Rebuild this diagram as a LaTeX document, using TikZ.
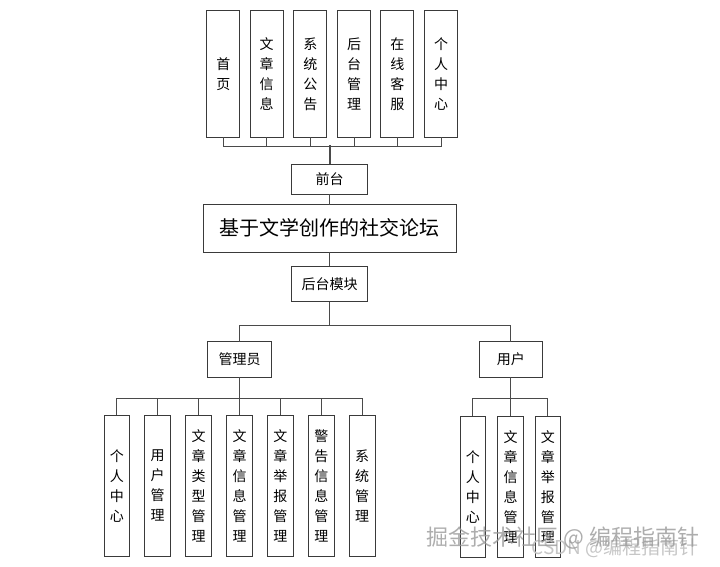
\documentclass[tikz,border=0pt]{standalone}
\usepackage{fontspec}
\setmainfont{Noto Sans CJK SC}
\usepackage{tikz}
\usetikzlibrary{positioning}
\definecolor{frame}{HTML}{3A3A3A}
\definecolor{wire}{HTML}{4A4A4A}

\tikzset{
  box/.style={draw=frame,line width=0.9pt,fill=white,inner sep=0pt,align=center,
    font=\fontsize{14}{20}\selectfont},
  topcol/.style={box,minimum width=33pt,minimum height=126.5pt},
  subcol/.style={box,minimum width=25.7pt,minimum height=141.5pt},
  hbox/.style={box,minimum height=35.6pt},
  link/.style={draw=wire,line width=0.9pt}
}

\begin{document}
\begin{tikzpicture}[x=1pt,y=-1pt,line cap=rect]
  \useasboundingbox (0,0) rectangle (720,567);

  % front end pages
  \node[topcol] (home)   at (223.3,73.8) {首\\页};
  \node[topcol] (artinfo) at (266.7,73.8) {文\\章\\信\\息};
  \node[topcol] (notice) at (310.4,73.8) {系\\统\\公\\告};
  \node[topcol] (backmg) at (354.0,73.8) {后\\台\\管\\理};
  \node[topcol] (online) at (397.4,73.8) {在\\线\\客\\服};
  \node[topcol] (mine)   at (441.0,73.8) {个\\人\\中\\心};

  \node[box,minimum width=76pt,minimum height=30pt] (front) at (329.7,179) {前台};
  \node[box,minimum width=252.7pt,minimum height=47.3pt,font=\fontsize{20}{24}\selectfont]
    (forum) at (329.7,228.3) {基于文学创作的社交论坛};
  \node[hbox,minimum width=76pt] (backend) at (329.7,283.8) {后台模块};

  \node[hbox,minimum width=64.7pt] (admin) at (239.5,359.5) {管理员};
  \node[hbox,minimum width=63pt]   (user)  at (510.8,359.5) {用户};

  % admin functions
  \node[subcol] (amine)   at (116.8,485.8) {个\\人\\中\\心};
  \node[subcol] (auser)   at (157.7,485.8) {用\\户\\管\\理};
  \node[subcol] (atype)   at (198.6,485.8) {文\\章\\类\\型\\管\\理};
  \node[subcol] (ainfo)   at (239.5,485.8) {文\\章\\信\\息\\管\\理};
  \node[subcol] (areport) at (280.4,485.8) {文\\章\\举\\报\\管\\理};
  \node[subcol] (awarn)   at (321.3,485.8) {警\\告\\信\\息\\管\\理};
  \node[subcol] (asys)    at (362.2,485.8) {系\\统\\管\\理};

  % user functions
  \node[subcol] (umine)   at (472.8,486.7) {个\\人\\中\\心};
  \node[subcol] (uinfo)   at (510.5,486.7) {文\\章\\信\\息\\管\\理};
  \node[subcol] (ureport) at (547.8,486.7) {文\\章\\举\\报\\管\\理};

  % connectors
  \coordinate (topbus) at (front.north |- 0,146);
  \draw[link,line width=1.6pt] (front.north) -- (topbus);
  \foreach \n in {home,artinfo,notice,backmg,online,mine}
    \draw[link] (\n.south) |- (topbus);
  \draw[link] (front) -- (forum);
  \draw[link] (forum) -- (backend);

  \coordinate (midbus) at (backend.south |- 0,325);
  \draw[link] (backend.south) -- (midbus);
  \draw[link] (midbus) -| (admin.north);
  \draw[link] (midbus) -| (user.north);

  \coordinate (adbus) at (admin.south |- 0,398.3);
  \draw[link] (admin.south) -- (adbus);
  \foreach \n in {amine,auser,atype,ainfo,areport,awarn,asys}
    \draw[link] (\n.north) |- (adbus);

  \coordinate (usbus) at (user.south |- 0,398.3);
  \draw[link] (user.south) -- (usbus);
  \foreach \n in {umine,uinfo,ureport}
    \draw[link] (\n.north) |- (usbus);

  % watermark
  \node[text=gray!45,font=\fontsize{19}{20}\selectfont] (csdn) at (615,548) {CSDN @编程指南针};
  \node[text=gray!80,opacity=0.8,font=\fontsize{22}{24}\selectfont] (mark) at (563,538) {掘金技术社区 @ 编程指南针};
\end{tikzpicture}
\end{document}
